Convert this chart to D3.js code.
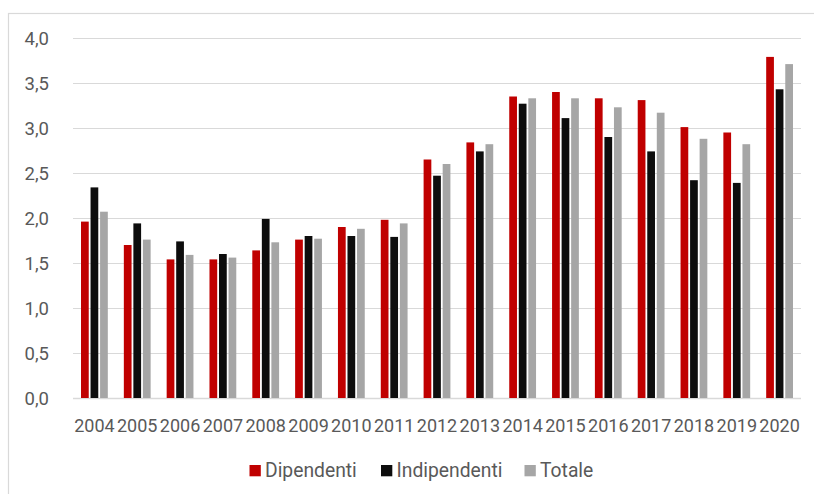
<!DOCTYPE html>
<html>
<head>
<meta charset="utf-8">
<script src="https://cdn.jsdelivr.net/npm/d3@7"></script>
<style>
  html, body { margin: 0; padding: 0; background: #fff; }
  svg { display: block; }
  text { font-family: Roboto, "Open Sans", sans-serif; fill: #595959; }
</style>
</head>
<body>
<svg id="chart" width="814" height="494"></svg>
<script>
const years = ["2004","2005","2006","2007","2008","2009","2010","2011","2012","2013","2014","2015","2016","2017","2018","2019","2020"];
const seriesNames = ["Dipendenti", "Indipendenti", "Totale"];
const dipendenti   = [1.96, 1.70, 1.54, 1.54, 1.64, 1.76, 1.90, 1.98, 2.65, 2.84, 3.35, 3.40, 3.33, 3.31, 3.01, 2.95, 3.79];
const indipendenti = [2.34, 1.94, 1.74, 1.60, 1.99, 1.80, 1.80, 1.79, 2.47, 2.74, 3.27, 3.11, 2.90, 2.74, 2.42, 2.39, 3.43];
const totale       = [2.07, 1.76, 1.59, 1.56, 1.73, 1.77, 1.88, 1.94, 2.60, 2.82, 3.33, 3.33, 3.23, 3.17, 2.88, 2.82, 3.71];
const yTicks = [0, 0.5, 1.0, 1.5, 2.0, 2.5, 3.0, 3.5, 4.0];
const colors = ["#C00000", "#0D0D0D", "#A6A6A6"];

const seriesValues = [dipendenti, indipendenti, totale];
const data = years.map((yr, i) => ({ year: yr, values: seriesNames.map((s, j) => ({ key: s, value: seriesValues[j][i] })) }));

const svg = d3.select("#chart");

// outer chart border (extends beyond view, as in the reference)
svg.append("rect")
  .attr("x", 8.5).attr("y", 13.5)
  .attr("width", 900).attr("height", 600)
  .attr("fill", "none").attr("stroke", "#D9D9D9").attr("stroke-width", 1.2);

const plot = { left: 73, right: 801, top: 38, bottom: 398 };

const x0 = d3.scaleBand().domain(years).range([plot.left, plot.right]).paddingInner(0).paddingOuter(0);
const groupWidth = 26.8;
const x1 = d3.scaleBand().domain(seriesNames).range([0, groupWidth]).paddingInner(0.19).paddingOuter(0);
const y = d3.scaleLinear().domain([0, 4]).range([plot.bottom, plot.top]);

// gridlines
svg.append("g")
  .selectAll("line")
  .data(yTicks)
  .join("line")
  .attr("x1", plot.left).attr("x2", plot.right)
  .attr("y1", d => Math.round(y(d)) + 0.5).attr("y2", d => Math.round(y(d)) + 0.5)
  .attr("stroke", "#D9D9D9")
  .attr("stroke-width", d => d === 0 ? 1.6 : 1.2);

// y axis labels
const yAxis = d3.axisLeft(y).tickValues(yTicks).tickSize(0).tickPadding(0)
  .tickFormat(d => d3.format(".1f")(d).replace(".", ","));
const gy = svg.append("g").attr("transform", `translate(49,0)`).call(yAxis);
gy.select(".domain").remove();
gy.selectAll("text").attr("font-size", 18.5).attr("font-family", "Roboto, 'Open Sans', sans-serif").attr("fill", "#595959").attr("dy", "0.34em");

// bars
const groups = svg.append("g")
  .selectAll("g")
  .data(data)
  .join("g")
  .attr("transform", d => `translate(${x0(d.year) + x0.bandwidth() / 2 - groupWidth / 2},0)`);

groups.selectAll("rect")
  .data(d => d.values)
  .join("rect")
  .attr("x", d => x1(d.key))
  .attr("width", x1.bandwidth())
  .attr("y", d => y(d.value))
  .attr("height", d => y(0) - y(d.value))
  .attr("fill", (d, i) => colors[i]);

// x axis labels
const xAxis = d3.axisBottom(x0).tickSize(0).tickPadding(0);
const gx = svg.append("g").attr("transform", `translate(0,${plot.bottom})`).call(xAxis);
gx.select(".domain").remove();
gx.selectAll("text").attr("font-size", 18).attr("font-family", "Roboto, 'Open Sans', sans-serif").attr("fill", "#595959").attr("dy", null).attr("y", 34);

// legend
const legendItems = [
  { name: seriesNames[0], color: colors[0], sx: 249.5 },
  { name: seriesNames[1], color: colors[1], sx: 381 },
  { name: seriesNames[2], color: colors[2], sx: 524.5 }
];
const lg = svg.append("g").selectAll("g").data(legendItems).join("g")
  .attr("transform", d => `translate(${d.sx},0)`);
lg.append("rect").attr("x", 0).attr("y", 465).attr("width", 11.3).attr("height", 11.3).attr("fill", d => d.color);
lg.append("text").attr("x", 15.5).attr("y", 476.5).attr("font-size", 19.3).text(d => d.name);
</script>
</body>
</html>
